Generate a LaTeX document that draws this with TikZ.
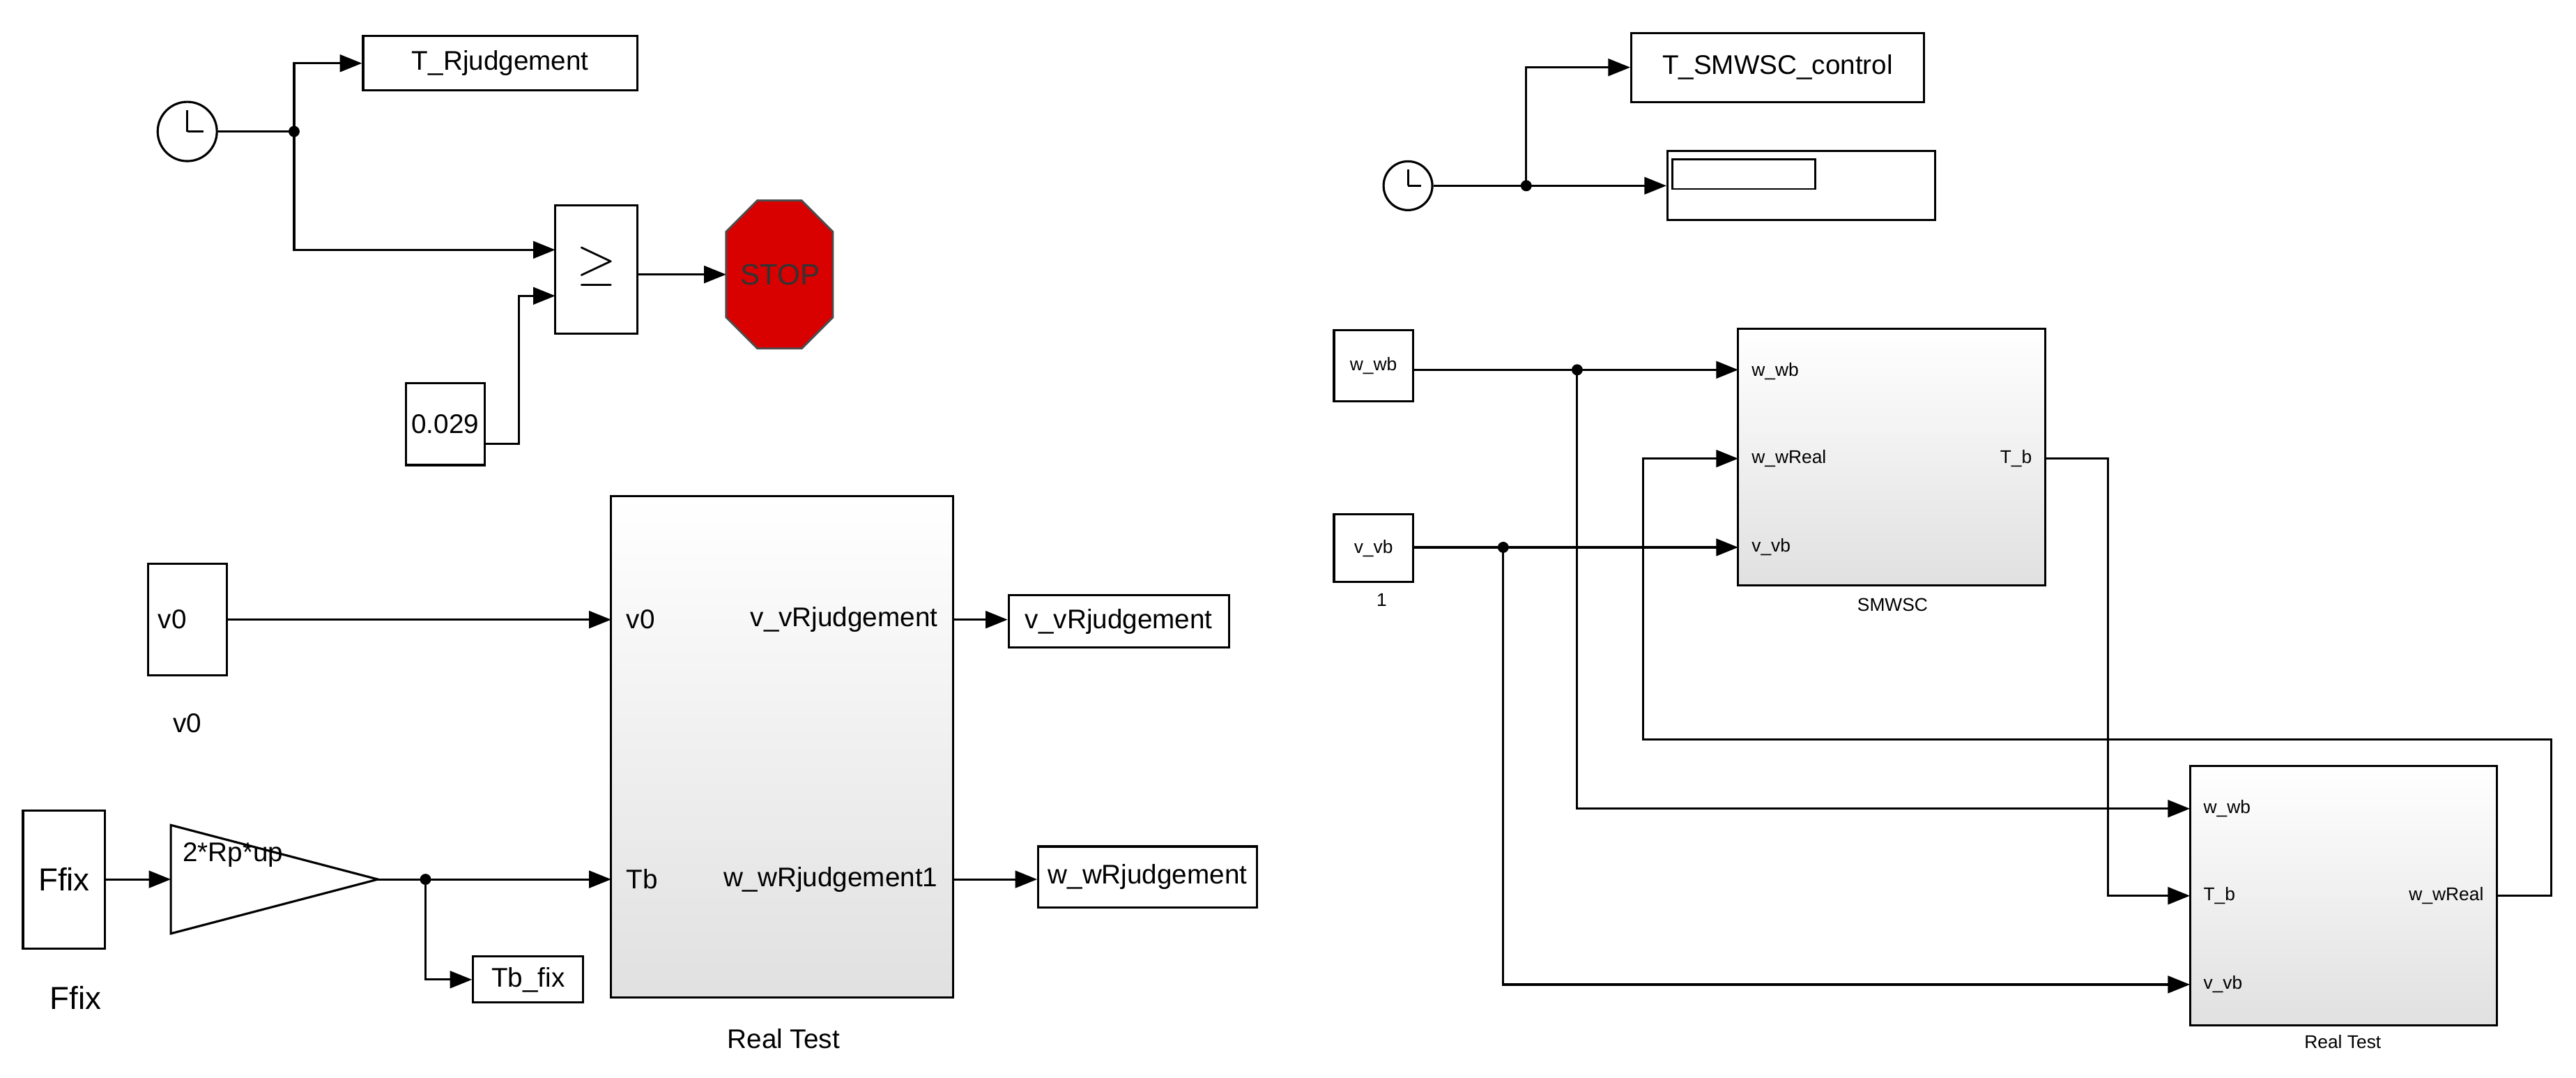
\documentclass[tikz,border=0pt]{standalone}
\usepackage{fontspec}
\setmainfont{Liberation Sans}
\usetikzlibrary{arrows.meta,fit}
\begin{document}
\begin{tikzpicture}[x=0.02357cm,y=-0.02357cm,
  blk/.style={draw,line width=0.9pt,inner sep=0pt,fill=white},
  big/.style={draw,line width=0.9pt,inner sep=0pt,top color=white,bottom color=black!12},
  ar/.style={line width=0.9pt,-{Triangle[length=9pt,width=7pt]}},
  ln/.style={line width=0.9pt},
  dot/.style={circle,fill=black,inner sep=1.6pt},
  L/.style={font=\fontsize{11}{13}\selectfont},
  S/.style={font=\fontsize{7.5}{9}\selectfont}]
\useasboundingbox (0,0) rectangle (1568,655.5);
% ---------- left ----------
\node[draw,circle,line width=0.9pt,minimum size=0.85cm,inner sep=0] (clk1) at (114,80) {};
\draw[line width=0.9pt] (114,80) -- (114,67) (114,80) -- (124,80);
\node[blk,fit={(221,22)(388,55)}] (tr) {};
\node[L] at (tr.center) {T\_Rjudgement};
\coordinate (j1) at (179,80);
\node[dot] at (j1) {};
\node[blk,fit={(338,125)(388,203)}] (ge) {};
\node[font=\fontsize{20}{22}\selectfont] at (363,162) {$\geq$};
\node[blk,fit={(247,233)(295,283)}] (c029) {};
\node[L] at (c029.center) {0.029};
\draw[fill=red!85!black,draw=black!70,line width=0.8pt] (461,122) -- (488,122) -- (507,141) -- (507,193) -- (488,212) -- (461,212) -- (442,193) -- (442,141) -- cycle;
\coordinate (stop) at (442,167);
\node[font=\fontsize{12}{14}\selectfont,black!80] at (475,167) {STOP};
\draw[ln] (clk1.east) -- (j1);
\draw[ar] (j1) |- (tr.west);
\draw[ar] (j1) |- (338,152);
\draw[ar] (c029.east |- 0,270) -- (316,270) |- (338,180);
\draw[ar] (388,167) -- (stop);

\node[big,fit={(372,302)(580,607)}] (rt1) {};
\node[L] at (477,632) {Real Test};
\node[L,anchor=west] at (376,377) {v0};
\node[L,anchor=west] at (376,535) {Tb};
\node[L,anchor=east] at (576,377) {v\_vRjudgement};
\node[L,anchor=east] at (576,535) {w\_wRjudgement1};
\node[blk,fit={(90,343)(138,411)}] (v0) {};
\node[L,anchor=west] at (91,377) {v0};
\node[L] at (114,440) {v0};
\node[blk,fit={(614,362)(748,394)}] (vv) {};
\node[L] at (vv.center) {v\_vRjudgement};
\node[blk,fit={(632,515)(765,552)}] (ww) {};
\node[L] at (ww.center) {w\_wRjudgement};
\draw[ar] (v0.east |- 0,377) -- (372,377);
\draw[ar] (580,377) -- (vv.west |- 0,377);
\draw[ar] (580,535) -- (ww.west |- 0,535);
\node[blk,fit={(14,493)(64,577)}] (ff) {};
\node[font=\fontsize{13}{15}\selectfont] at (39,535) {Ffix};
\node[font=\fontsize{13}{15}\selectfont] at (46,607) {Ffix};
\draw[line width=0.9pt,fill=white] (104,502) -- (230,535) -- (104,568) -- cycle;
\coordinate (gin) at (104,535); \coordinate (gout) at (230,535);
\node[L,anchor=west] at (106,520) {2*Rp*up};
\node[blk,fit={(288,582)(355,610)}] (tbf) {};
\node[L] at (tbf.center) {Tb\_fix};
\coordinate (j2) at (259,535);
\node[dot] at (j2) {};
\draw[ar] (ff.east |- 0,535) -- (gin);
\draw[ln] (gout) -- (j2);
\draw[ar] (j2) -- (372,535);
\draw[ar] (j2) |- (tbf.west);
% ---------- right ----------
\node[draw,circle,line width=0.9pt,minimum size=0.7cm,inner sep=0] (clk2) at (857,113) {};
\draw[line width=0.8pt] (857,113) -- (857,103) (857,113) -- (865,113);
\node[blk,fit={(993,20)(1171,62)}] (ts) {};
\node[L] at (ts.center) {T\_SMWSC\_control};
\node[blk,fit={(1015,92)(1178,134)}] (disp) {};
\draw[line width=0.8pt] (1018,97) rectangle (1105,115);
\coordinate (j3) at (929,113);
\node[dot] at (j3) {};
\draw[ln] (clk2.east) -- (j3);
\draw[ar] (j3) |- (ts.west);
\draw[ar] (j3) -- (disp.west);

\node[blk,fit={(812,201)(860,244)}] (wwb) {};
\node[S] at (wwb.center) {w\_wb};
\node[blk,fit={(812,313)(860,354)}] (vvb) {};
\node[S] at (vvb.center) {v\_vb};
\node[S] at (841,365) {1};
\node[big,fit={(1058,200)(1245,356)}] (sm) {};
\node[S] at (1152,368) {SMWSC};
\node[S,anchor=west] at (1061,226) {w\_wb};
\node[S,anchor=west] at (1061,279) {w\_wReal};
\node[S,anchor=west] at (1061,333) {v\_vb};
\node[S,anchor=east] at (1242,279) {T\_b};
\node[big,fit={(1333,466)(1520,624)}] (rt2) {};
\node[S] at (1426,634) {Real Test};
\node[S,anchor=west] at (1336,492) {w\_wb};
\node[S,anchor=west] at (1336,545) {T\_b};
\node[S,anchor=west] at (1336,599) {v\_vb};
\node[S,anchor=east] at (1517,545) {w\_wReal};
\coordinate (j4) at (960,225);
\coordinate (j5) at (915,333);
\node[dot] at (j4) {}; \node[dot] at (j5) {};
\draw[ln] (wwb.east |- 0,225) -- (j4);
\draw[ar] (j4) -- (1058,225);
\draw[ln] (vvb.east |- 0,333) -- (j5);
\draw[ar] (j5) -- (1058,333);
\draw[ar] (j4) |- (1333,492);
\draw[ar] (j5) |- (1333,599);
\draw[ar] (1245,279) -- (1283,279) |- (1333,545);
\draw[ar] (1520,545) -- (1553,545) |- (1000,450) |- (1058,279);
\end{tikzpicture}
\end{document}
